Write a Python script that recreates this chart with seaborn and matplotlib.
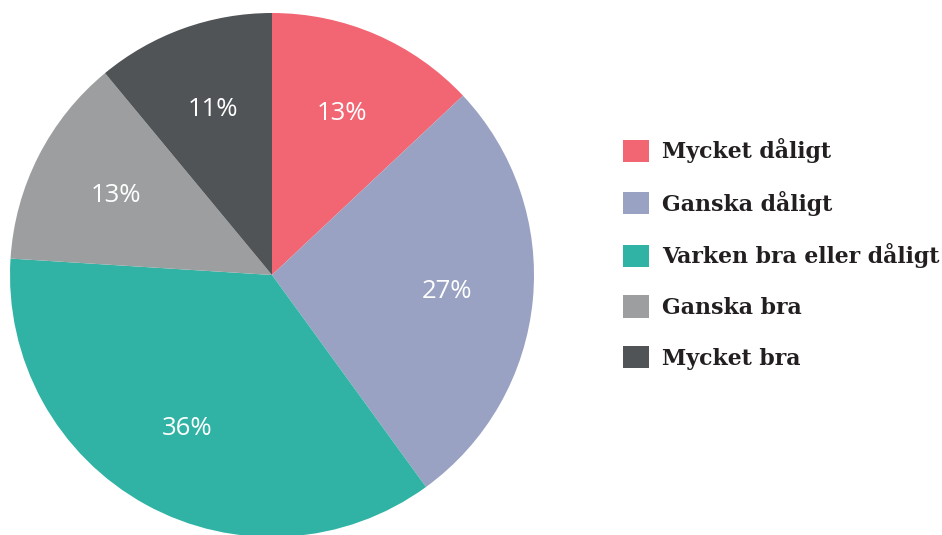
import matplotlib
matplotlib.use("Agg")
import matplotlib.pyplot as plt
import seaborn as sns

categories = ["Mycket dåligt", "Ganska dåligt", "Varken bra eller dåligt", "Ganska bra", "Mycket bra"]
values = [13, 27, 36, 13, 11]
colors = ["#F26674", "#99A2C2", "#30B3A5", "#9D9E9F", "#505456"]

sns.set_theme(style="white")
plt.rcParams['font.family'] = ['DejaVu Sans']

fig = plt.figure(figsize=(9.42, 5.35), dpi=100)
W, H = 942, 535
cx, cy, r = 272, 275, 262
ax = fig.add_axes([(cx - r) / W, (H - cy - r) / H, 2 * r / W, 2 * r / H])
wedges, texts, autotexts = ax.pie(
    values, colors=colors, startangle=90, counterclock=False,
    autopct=lambda p: f"{p:.0f}%", pctdistance=0.67,
    wedgeprops=dict(linewidth=0),
    textprops=dict(color="white", fontsize=18.5, family="Open Sans"),
)
ax.set_xlim(-1, 1)
ax.set_ylim(-1, 1)
ax.set_aspect("auto")
ax.axis("off")

leg = fig.legend(
    wedges, categories, loc="center left",
    bbox_to_anchor=(623 / W, 1 - 254 / H), frameon=False,
    handlelength=1.17, handleheight=1.17, handletextpad=0.6,
    labelspacing=1.25, borderpad=0, borderaxespad=0,
    prop=dict(family="DejaVu Serif", weight="bold", size=15.8),
)
for t in leg.get_texts():
    t.set_color("#231F20")

fig.savefig("out.png", dpi=100)
